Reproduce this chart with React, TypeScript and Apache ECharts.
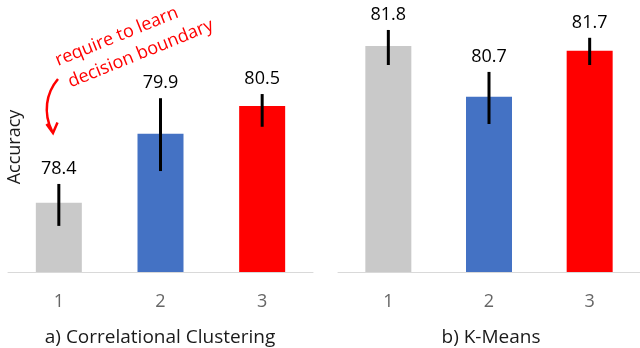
import React, { useEffect, useRef } from "react";
import * as echarts from "echarts";

const categories = ["1", "2", "3"];
const ccValues = [78.4, 79.9, 80.5];
const ccErrLow = [77.9, 79.09, 80.05];
const ccErrHigh = [78.81, 80.67, 80.76];
const kmValues = [81.8, 80.7, 81.7];
const kmErrLow = [81.39, 80.11, 81.39];
const kmErrHigh = [82.15, 81.24, 81.98];
const barColors = ["#C9C9C9", "#4472C4", "#FF0000"];
const panelTitles = ["a) Correlational Clustering", "b) K-Means"];
const yAxisName = "Accuracy";
const annotationLines = ["require to learn", "decision boundary"];

const FONT = "'Open Sans', 'Noto Sans', sans-serif";

function errData(values: number[], lo: number[], hi: number[]) {
  return values.map((v, i) => [i, lo[i], hi[i], v]);
}

const renderErr = (params: any, api: any) => {
  const x = api.value(0);
  const lo = api.coord([x, api.value(1)]);
  const hi = api.coord([x, api.value(2)]);
  return {
    type: "group",
    children: [
      {
        type: "line",
        shape: { x1: lo[0], y1: lo[1], x2: hi[0], y2: hi[1] },
        style: { stroke: "#000", lineWidth: 3 },
      },
      {
        type: "text",
        x: hi[0],
        y: hi[1] - 17,
        style: {
          text: String(api.value(3)),
          fill: "#000",
          fontSize: 18,
          fontFamily: FONT,
          align: "center",
          verticalAlign: "middle",
        },
      },
    ],
  };
};

export default function App() {
  const ref = useRef<HTMLDivElement>(null);
  useEffect(() => {
    if (!ref.current) return;
    const chart = echarts.init(ref.current, undefined, { renderer: "svg" });
    const xAxisCommon = {
      type: "category",
      data: categories,
      axisLine: { show: true, lineStyle: { color: "#D9D9D9", width: 1 } },
      axisTick: { show: false },
      axisLabel: { margin: 19, fontSize: 18, color: "#666666", fontFamily: FONT },
    };
    const yAxisCommon = {
      type: "value",
      min: 76.9,
      max: 82.8,
      show: false,
      splitLine: { show: false },
    };
    const rot = (22 * Math.PI) / 180;
    chart.setOption({
      animation: false,
      grid: [
        { left: 8, width: 305, top: 0, bottom: 76 },
        { left: 338, width: 303, top: 0, bottom: 76 },
      ],
      xAxis: [
        { ...xAxisCommon, gridIndex: 0 },
        { ...xAxisCommon, gridIndex: 1 },
      ],
      yAxis: [
        { ...yAxisCommon, gridIndex: 0 },
        { ...yAxisCommon, gridIndex: 1 },
      ],
      series: [
        {
          type: "bar",
          xAxisIndex: 0,
          yAxisIndex: 0,
          barWidth: 46,
          data: ccValues.map((v, i) => ({ value: v, itemStyle: { color: barColors[i] } })),
        },
        {
          type: "bar",
          xAxisIndex: 1,
          yAxisIndex: 1,
          barWidth: 46,
          data: kmValues.map((v, i) => ({ value: v, itemStyle: { color: barColors[i] } })),
        },
        {
          type: "custom",
          xAxisIndex: 0,
          yAxisIndex: 0,
          encode: { x: 0, y: [1, 2] },
          renderItem: renderErr,
          data: errData(ccValues, ccErrLow, ccErrHigh),
          z: 5,
        },
        {
          type: "custom",
          xAxisIndex: 1,
          yAxisIndex: 1,
          encode: { x: 0, y: [1, 2] },
          renderItem: renderErr,
          data: errData(kmValues, kmErrLow, kmErrHigh),
          z: 5,
        },
      ],
      graphic: [
        {
          type: "text",
          x: 160,
          y: 336,
          style: { text: panelTitles[0], fontSize: 19, lineHeight: 20, fontFamily: FONT, fill: "#1a1a1a", align: "center", verticalAlign: "middle" },
        },
        {
          type: "text",
          x: 491,
          y: 336,
          style: { text: panelTitles[1], fontSize: 19, lineHeight: 20, fontFamily: FONT, fill: "#1a1a1a", align: "center", verticalAlign: "middle" },
        },
        {
          type: "text",
          x: 13,
          y: 147,
          rotation: Math.PI / 2,
          style: { text: yAxisName, fontSize: 18, fontFamily: FONT, fill: "#1a1a1a", align: "center", verticalAlign: "middle" },
        },
        {
          type: "text",
          x: 116,
          y: 35,
          rotation: rot,
          style: { text: annotationLines[0], fontSize: 18, fontFamily: FONT, fill: "#FF0000", align: "center", verticalAlign: "middle" },
        },
        {
          type: "text",
          x: 140,
          y: 52,
          rotation: rot,
          style: { text: annotationLines[1], fontSize: 18, fontFamily: FONT, fill: "#FF0000", align: "center", verticalAlign: "middle" },
        },
        {
          type: "bezierCurve",
          shape: { x1: 58, y1: 79, cpx1: 46, cpy1: 93, cpx2: 43, cpy2: 113, x2: 52, y2: 131 },
          style: { stroke: "#FF0000", lineWidth: 2.5, fill: null },
        },
        {
          type: "polyline",
          shape: { points: [[46.5, 124], [53, 133], [57.5, 122.5]] },
          style: { stroke: "#FF0000", lineWidth: 2.5, fill: null },
        },
      ],
    });
    return () => chart.dispose();
  }, []);
  return <div ref={ref} style={{ position: "fixed", left: 0, top: 0, width: 640, height: 348 }} />;
}
